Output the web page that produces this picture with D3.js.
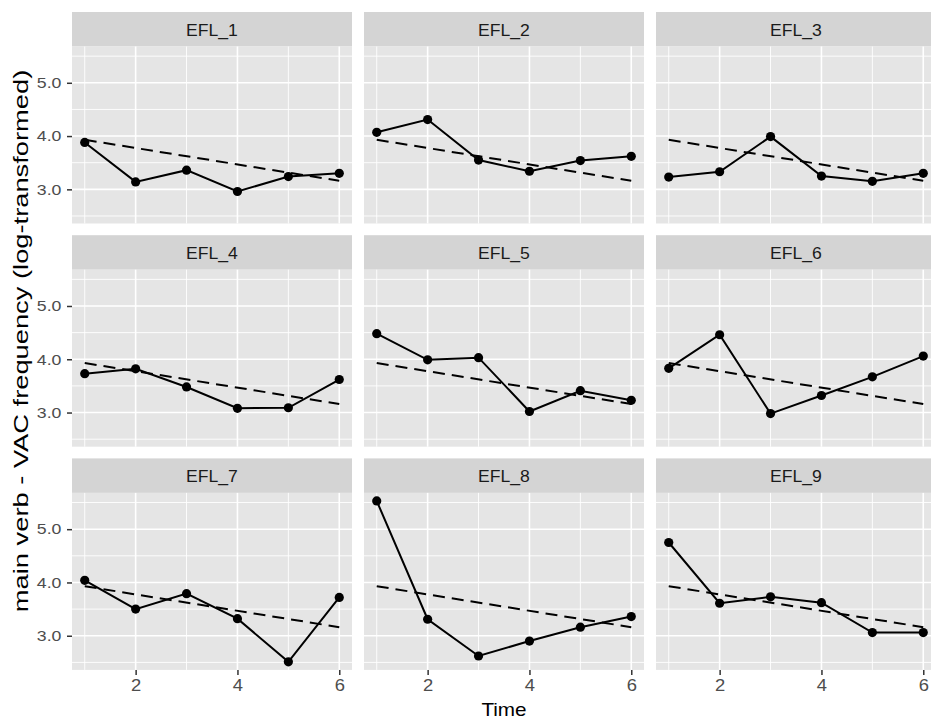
<!DOCTYPE html>
<html lang="en">
<head>
<meta charset="UTF-8">
<title>main verb - VAC frequency by learner</title>
<script src="https://cdn.jsdelivr.net/npm/d3@7"></script>
<style>
  body { margin: 0; background: #fff; }
  svg text { font-family: "Liberation Sans", Arial, Helvetica, sans-serif; }
</style>
</head>
<body>
<svg id="chart" width="931" height="719"></svg>
<script>
  // facet labels and time points
  const learners = ["EFL_1", "EFL_2", "EFL_3", "EFL_4", "EFL_5", "EFL_6", "EFL_7", "EFL_8", "EFL_9"];
  const timePoints = [1, 2, 3, 4, 5, 6];

  // log-transformed frequency, one array per learner
  const efl1 = [3.88, 3.14, 3.36, 2.96, 3.24, 3.30];
  const efl2 = [4.07, 4.31, 3.55, 3.34, 3.54, 3.62];
  const efl3 = [3.23, 3.33, 3.99, 3.25, 3.15, 3.30];
  const efl4 = [3.73, 3.82, 3.48, 3.08, 3.09, 3.62];
  const efl5 = [4.48, 3.99, 4.03, 3.02, 3.41, 3.23];
  const efl6 = [3.83, 4.46, 2.98, 3.32, 3.67, 4.06];
  const efl7 = [4.04, 3.50, 3.79, 3.32, 2.51, 3.72];
  const efl8 = [5.53, 3.31, 2.62, 2.90, 3.16, 3.36];
  const efl9 = [4.75, 3.61, 3.73, 3.62, 3.06, 3.06];
  const learnerValues = [efl1, efl2, efl3, efl4, efl5, efl6, efl7, efl8, efl9];

  // group-level trend (dashed line), same in every panel
  const trendTime = [1, 6];
  const trendValue = [3.93, 3.16];

  const xTicks = [2, 4, 6];
  const xMinor = [1, 3, 5];
  const yTicks = [3, 4, 5];
  const yMinor = [2.5, 3.5, 4.5, 5.5];

  // layout
  const colLeft = 72, colStep = 292, panelW = 280;
  const rowTop = 12, rowStep = 223.2, stripH = 34.5, panelH = 177;

  const svg = d3.select("#chart");

  // ggplot style 5% expansion of the ranges
  const allVals = learnerValues.flat();
  const yMin = d3.min(allVals), yMax = d3.max(allVals);
  const yPad = (yMax - yMin) * 0.05;
  const xPad = (d3.max(timePoints) - d3.min(timePoints)) * 0.05;

  const x = d3.scaleLinear()
    .domain([d3.min(timePoints) - xPad, d3.max(timePoints) + xPad])
    .range([0, panelW]);
  const y = d3.scaleLinear()
    .domain([yMin - yPad, yMax + yPad])
    .range([panelH, 0]);

  const line = d3.line()
    .x(d => x(d[0]))
    .y(d => y(d[1]));

  learners.forEach((name, i) => {
    const col = i % 3, row = Math.floor(i / 3);
    const left = colLeft + col * colStep;
    const top = rowTop + row * rowStep;

    // strip
    svg.append("rect")
      .attr("x", left).attr("y", top)
      .attr("width", panelW).attr("height", stripH)
      .attr("fill", "#d4d4d4");
    svg.append("text")
      .attr("transform", `translate(${left + panelW / 2},${top + 23.7}) scale(1.1,1)`)
      .attr("text-anchor", "middle")
      .attr("font-size", 16)
      .attr("fill", "#1a1a1a")
      .text(name);

    const g = svg.append("g")
      .attr("transform", `translate(${left},${top + stripH})`);

    g.append("rect")
      .attr("width", panelW).attr("height", panelH)
      .attr("fill", "#e5e5e5");

    // grid
    g.selectAll("line.ymin").data(yMinor).enter().append("line")
      .attr("x1", 0).attr("x2", panelW)
      .attr("y1", d => y(d)).attr("y2", d => y(d))
      .attr("stroke", "#fff").attr("stroke-width", 0.9);
    g.selectAll("line.xmin").data(xMinor).enter().append("line")
      .attr("y1", 0).attr("y2", panelH)
      .attr("x1", d => x(d)).attr("x2", d => x(d))
      .attr("stroke", "#fff").attr("stroke-width", 0.9);
    g.selectAll("line.ymaj").data(yTicks).enter().append("line")
      .attr("x1", 0).attr("x2", panelW)
      .attr("y1", d => y(d)).attr("y2", d => y(d))
      .attr("stroke", "#fff").attr("stroke-width", 1.6);
    g.selectAll("line.xmaj").data(xTicks).enter().append("line")
      .attr("y1", 0).attr("y2", panelH)
      .attr("x1", d => x(d)).attr("x2", d => x(d))
      .attr("stroke", "#fff").attr("stroke-width", 1.6);

    // trend
    g.append("path")
      .datum(d3.zip(trendTime, trendValue))
      .attr("d", line)
      .attr("fill", "none")
      .attr("stroke", "#000")
      .attr("stroke-width", 2)
      .attr("stroke-dasharray", "12,7");

    // learner series
    const pts = d3.zip(timePoints, learnerValues[i]);
    g.append("path")
      .datum(pts)
      .attr("d", line)
      .attr("fill", "none")
      .attr("stroke", "#000")
      .attr("stroke-width", 2);
    g.selectAll("circle").data(pts).enter().append("circle")
      .attr("cx", d => x(d[0]))
      .attr("cy", d => y(d[1]))
      .attr("r", 4.6)
      .attr("fill", "#000");

    // axes only on outer panels
    if (col === 0) {
      g.append("g")
        .call(d3.axisLeft(y).tickValues(yTicks).tickFormat(d3.format(".1f")).tickSize(5).tickPadding(4))
        .call(a => a.select(".domain").remove())
        .call(a => a.selectAll("line").attr("stroke", "#333").attr("stroke-width", 1.5))
        .call(a => a.selectAll("text")
          .attr("fill", "#4d4d4d")
          .attr("font-size", 15)
          .attr("font-family", null)
          .attr("transform", "scale(1.18,1)"));
    }
    if (row === 2) {
      g.append("g")
        .attr("transform", `translate(0,${panelH})`)
        .call(d3.axisBottom(x).tickValues(xTicks).tickFormat(d3.format("d")).tickSize(5).tickPadding(5))
        .call(a => a.select(".domain").remove())
        .call(a => a.selectAll("line").attr("stroke", "#333").attr("stroke-width", 1.5))
        .call(a => a.selectAll("text")
          .attr("fill", "#4d4d4d")
          .attr("font-size", 16)
          .attr("font-family", null)
          .attr("transform", "scale(1.15,1)"));
    }
  });

  // axis titles
  const plotBottom = rowTop + 2 * rowStep + stripH + panelH;
  svg.append("text")
    .attr("transform", `translate(28,${(rowTop + plotBottom) / 2}) rotate(-90) scale(1.3,1)`)
    .attr("text-anchor", "middle")
    .attr("font-size", 21)
    .attr("fill", "#000")
    .text("main verb - VAC frequency (log-transformed)");
  svg.append("text")
    .attr("transform", `translate(${colLeft + (2 * colStep + panelW) / 2},716) scale(1.15,1)`)
    .attr("text-anchor", "middle")
    .attr("font-size", 18)
    .attr("fill", "#000")
    .text("Time");
</script>
</body>
</html>
